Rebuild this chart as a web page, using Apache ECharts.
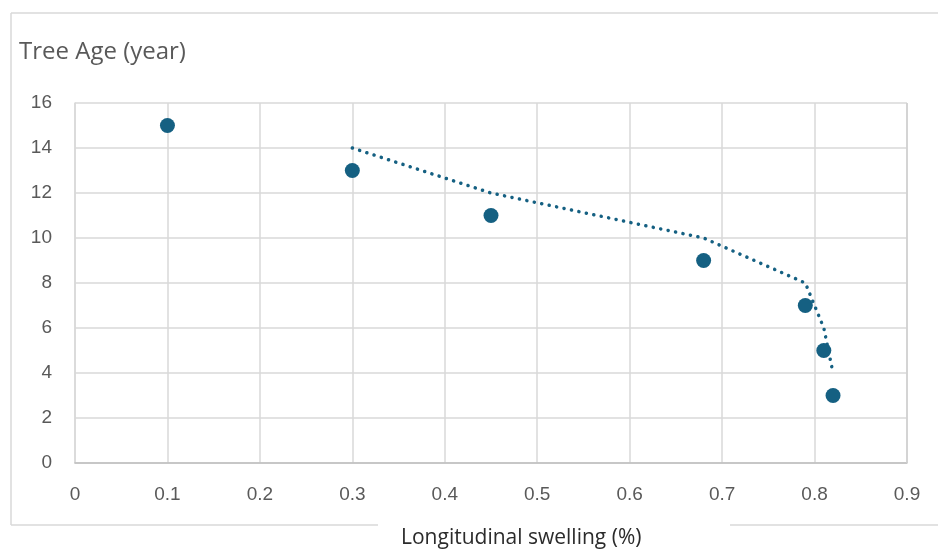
<!DOCTYPE html>
<html>
<head>
<meta charset="utf-8">
<script src="https://cdn.jsdelivr.net/npm/echarts@6/dist/echarts.min.js"></script>
<style>
  html, body { margin: 0; padding: 0; background: #fff; }
  #chart { width: 938px; height: 551px; }
</style>
</head>
<body>
<div id="chart"></div>
<script>
// Measured samples: longitudinal swelling (%) vs. tree age (years)
const swelling = [0.1, 0.3, 0.45, 0.68, 0.79, 0.81, 0.82];
const treeAge = [15, 13, 11, 9, 7, 5, 3];

// Two-period moving-average trendline points
const trendX = [0.3, 0.45, 0.68, 0.79, 0.81, 0.82];
const trendY = [14, 12, 10, 8, 6, 4];

const xTicks = { min: 0, max: 0.9, step: 0.1 };
const yTicks = { min: 0, max: 16, step: 2 };

const ink = '#156082';
const labelColor = '#595959';
const frame = '#d9d9d9';

const chart = echarts.init(document.getElementById('chart'), null, { renderer: 'canvas' });

chart.setOption({
  animation: false,
  backgroundColor: '#fff',
  grid: { left: 75, right: 31, top: 103, bottom: 88, containLabel: false },
  xAxis: {
    type: 'value',
    min: xTicks.min, max: xTicks.max, interval: xTicks.step,
    axisLine: { show: true, lineStyle: { color: '#bfbfbf', width: 1.5 } },
    axisTick: { show: false },
    axisLabel: {
      color: labelColor, fontFamily: 'Liberation Sans', fontSize: 19, margin: 22,
      formatter: v => String(+v.toFixed(1))
    },
    splitLine: { show: true, lineStyle: { color: frame, width: 1.5 } }
  },
  yAxis: {
    type: 'value',
    min: yTicks.min, max: yTicks.max, interval: yTicks.step,
    axisLine: { show: true, lineStyle: { color: frame, width: 1.5 } },
    axisTick: { show: false },
    axisLabel: { color: labelColor, fontFamily: 'Liberation Sans', fontSize: 19, margin: 23 },
    splitLine: { show: true, lineStyle: { color: frame, width: 1.5 } }
  },
  graphic: [
    // chart frame (bottom edge is interrupted by the axis title)
    { type: 'line', shape: { x1: 11, y1: 13, x2: 938, y2: 13 }, style: { stroke: frame, lineWidth: 1.5 } },
    { type: 'line', shape: { x1: 11, y1: 13, x2: 11, y2: 525 }, style: { stroke: frame, lineWidth: 1.5 } },
    { type: 'line', shape: { x1: 11, y1: 525, x2: 378, y2: 525 }, style: { stroke: frame, lineWidth: 1.5 } },
    { type: 'line', shape: { x1: 730, y1: 525, x2: 938, y2: 525 }, style: { stroke: frame, lineWidth: 1.5 } },
    // plot area right edge
    { type: 'line', shape: { x1: 907, y1: 103, x2: 907, y2: 463 }, style: { stroke: '#cfcfcf', lineWidth: 1.5 }, z: 1 },
    {
      type: 'text', left: 19, top: 40,
      style: { text: 'Tree Age (year)', fill: labelColor, font: '24px "Open Sans", sans-serif' }
    },
    {
      type: 'text', left: 401, top: 528,
      style: { text: 'Longitudinal swelling (%)', fill: '#2b2b2b', font: '21px "Open Sans", sans-serif' }
    }
  ],
  series: [
    {
      name: 'Trend',
      type: 'line',
      data: trendX.map((x, i) => [x, trendY[i]]),
      showSymbol: false,
      symbol: 'none',
      lineStyle: { color: ink, width: 3.5, type: [0.1, 7.5], cap: 'round', opacity: 1 },
      z: 3
    },
    {
      name: 'Tree Age',
      type: 'scatter',
      data: swelling.map((x, i) => [x, treeAge[i]]),
      symbol: 'circle',
      symbolSize: 15,
      itemStyle: { color: ink, opacity: 1 },
      z: 4
    }
  ]
});
</script>
</body>
</html>
